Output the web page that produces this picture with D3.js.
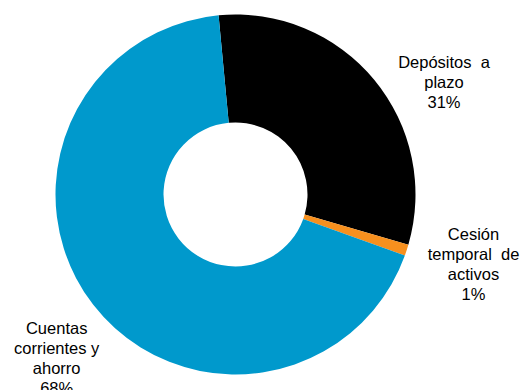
<!DOCTYPE html>
<html>
<head>
<meta charset="utf-8">
<script src="https://cdn.jsdelivr.net/npm/d3@7"></script>
<style>
  html, body { margin: 0; padding: 0; background: #fff; }
  svg { display: block; }
  text { font-family: "Liberation Sans", Arial, sans-serif; font-size: 16.5px; fill: #000; }
</style>
</head>
<body>
<svg id="chart" width="525" height="390"></svg>
<script>
// Composition of deposits by product
const categories = ["Depósitos a plazo", "Cesión temporal de activos", "Cuentas corrientes y ahorro"];
const values = [31, 1, 68];
const labelLines = [
  ["Depósitos  a", "plazo", "31%"],
  ["Cesión", "temporal  de", "activos", "1%"],
  ["Cuentas", "corrientes y", "ahorro", "68%"]
];
const colors = ["#000000", "#F7901E", "#0099CC"];

// Layout
const W = 525, H = 390;
const cx = 235.5, cy = 194.5;
const outerR = 180, innerR = 72;
const startDeg = -5.4;
const lineH = 20;
// label block centres (x, baseline of first line)
const labelAnchors = [[444, 68], [473.5, 239.5], [56.7, 334]];

const svg = d3.select("#chart");
const g = svg.append("g").attr("transform", `translate(${cx},${cy})`);

const pie = d3.pie()
  .sort(null)
  .value(d => d)
  .startAngle(startDeg * Math.PI / 180)
  .endAngle(startDeg * Math.PI / 180 + 2 * Math.PI);

const arc = d3.arc().innerRadius(innerR).outerRadius(outerR);

g.selectAll("path.slice")
  .data(pie(values))
  .join("path")
  .attr("class", "slice")
  .attr("d", arc)
  .attr("fill", (d, i) => colors[i]);

const labels = svg.selectAll("text.lbl")
  .data(categories)
  .join("text")
  .attr("class", "lbl")
  .attr("text-anchor", "middle")
  .attr("x", (d, i) => labelAnchors[i][0])
  .attr("y", (d, i) => labelAnchors[i][1]);

labels.each(function (d, i) {
  d3.select(this).selectAll("tspan")
    .data(labelLines[i])
    .join("tspan")
    .attr("x", labelAnchors[i][0])
    .attr("dy", (t, j) => j === 0 ? 0 : lineH)
    .style("white-space", "pre")
    .attr("xml:space", "preserve")
    .text(t => t);
});
</script>
</body>
</html>
